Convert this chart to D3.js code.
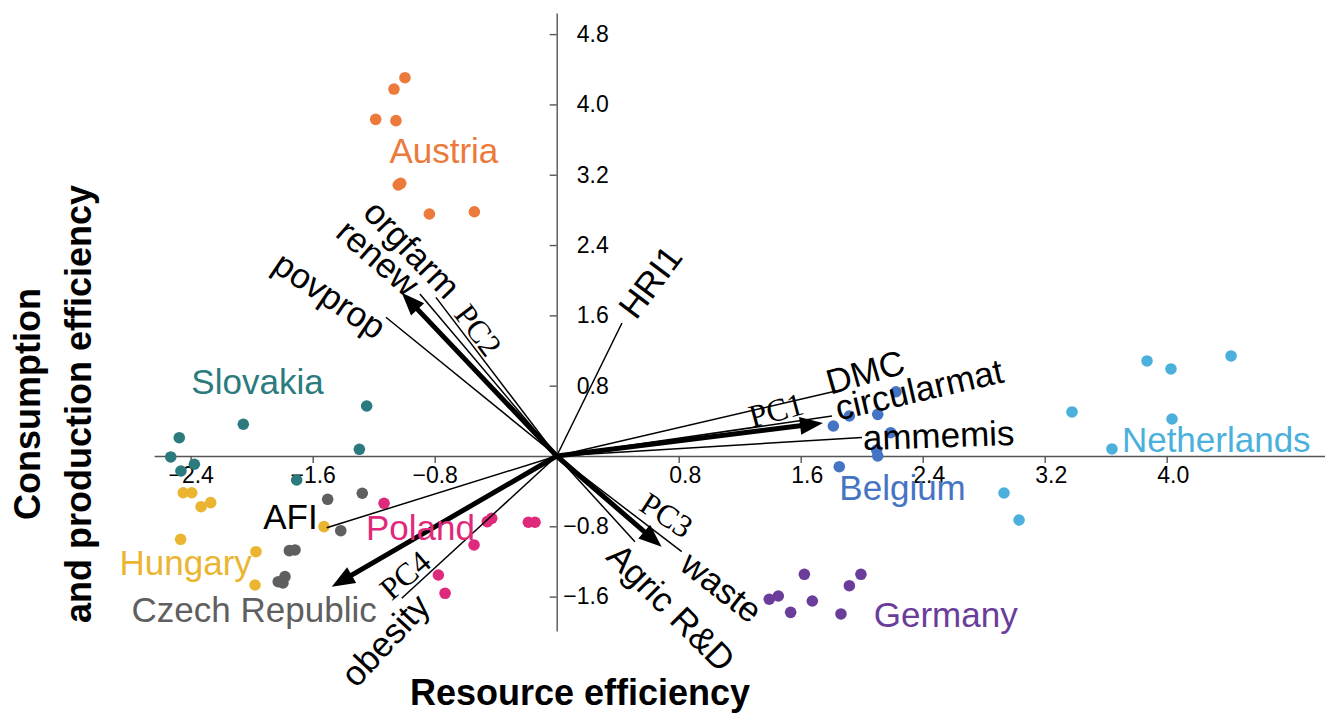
<!DOCTYPE html>
<html>
<head>
<meta charset="utf-8">
<script src="https://cdn.jsdelivr.net/npm/d3@7"></script>
<style>
    body { margin: 0; background: #ffffff; }
    svg { display: block; font-family: "Liberation Sans", Arial, sans-serif; }
</style>
</head>
<body>
<div id="graphContainer"></div>
<script>
"use strict";

// Country scores (x = Resource efficiency, y = Consumption and production efficiency)
const countryNames = ["Austria", "Slovakia", "Hungary", "Czech Republic", "Poland", "Belgium", "Germany", "Netherlands"];
const countryColors = ["#EC7A3A", "#2B7B7E", "#EBB531", "#5F5F5F", "#DF2A7C", "#4674C4", "#6A3D9A", "#4BB0DB"];

const scoresAustria = [[-0.995, 4.304], [-1.067, 4.175], [-1.187, 3.830], [-1.054, 3.815],
    [-1.039, 3.083], [-1.023, 3.102], [-0.835, 2.753], [-0.540, 2.779]];
const scoresSlovakia = [[-1.246, 0.569], [-2.055, 0.361], [-2.475, 0.208], [-1.294, 0.076],
    [-2.531, -0.011], [-2.376, -0.094], [-2.464, -0.171], [-1.705, -0.273]];
const scoresHungary = [[-2.449, -0.418], [-2.393, -0.418], [-2.332, -0.577], [-2.269, -0.531],
    [-2.466, -0.948], [-1.972, -1.089], [-1.978, -1.468], [-1.526, -0.804]];
const scoresCzech = [[-1.502, -0.493], [-1.275, -0.424], [-1.416, -0.850], [-1.753, -1.077],
    [-1.716, -1.069], [-1.782, -1.373], [-1.826, -1.430], [-1.795, -1.445]];
const scoresPoland = [[-1.132, -0.538], [-0.426, -0.709], [-0.455, -0.747], [-0.186, -0.754],
    [-0.142, -0.754], [-0.542, -1.012], [-0.776, -1.354], [-0.732, -1.562]];
const scoresBelgium = [[2.225, 0.731], [1.919, 0.455], [2.105, 0.474], [1.814, 0.341],
    [2.190, 0.265], [2.098, 0.068], [2.105, 0.000], [1.853, -0.122]];
const scoresGermany = [[1.394, -1.630], [1.453, -1.593], [1.534, -1.779], [1.624, -1.346],
    [1.676, -1.650], [1.864, -1.797], [1.919, -1.476], [1.995, -1.346]];
const scoresNetherlands = [[3.871, 1.081], [4.028, 0.990], [4.422, 1.138], [3.379, 0.501],
    [4.035, 0.421], [3.641, 0.080], [2.933, -0.421], [3.032, -0.728]];

// Variable loadings (thin lines)
const variableNames = ["HRI1", "DMC", "circularmat", "ammemis", "waste", "Agric R&D", "obesity", "AFI", "povprop", "renew", "orgfarm"];
const loadingX = [0.428, 1.832, 1.805, 2.002, 0.820, 0.513, -1.016, -1.508, -1.120, -0.897, -0.792];
const loadingY = [1.513, 0.739, 0.455, 0.210, -1.089, -0.975, -1.619, -0.816, 1.578, 1.843, 1.805];

// Principal component arrows
const componentNames = ["PC1", "PC2", "PC3", "PC4"];
const componentX = [1.746, -1.016, 0.688, -1.475];
const componentY = [0.375, 1.858, -1.032, -1.487];

// Axis ticks
const xTicks = [-2.4, -1.6, -0.8, 0.8, 1.6, 2.4, 3.2, 4.0];
const yTicks = [-1.6, -0.8, 0.8, 1.6, 2.4, 3.2, 4.0, 4.8];

// Label placement, in data units (where each label sits and how it is turned)
const countryLabelAt = [[-0.740, 3.330], [-1.962, 0.705], [-2.433, -1.354], [-1.984, -1.885],
    [-0.893, -0.956], [2.268, -0.500], [2.551, -1.942], [4.325, 0.048]];
const variableLabelAt = [[0.612, 1.983], [2.022, 0.959], [2.376, 0.762], [2.504, 0.239], [1.082, -1.487],
    [0.752, -1.721], [-1.126, -2.093], [-1.746, -0.688], [-1.487, 1.832], [-1.170, 2.260], [-0.947, 2.355]];
const variableLabelAngle = [-53, -16, -13, -2, 38, 45, -47, 0, 34, 41, 46];
const componentLabelAt = [[1.438, 0.523], [-0.514, 1.433], [0.721, -0.671], [-0.995, -1.354]];
const componentLabelAngle = [-15, 53, 33, -41];

const graphInfo = {
    width: 1325,
    height: 713,
    xAxisLabel: "Resource efficiency",
    yAxisLabel: ["Consumption", "and production efficiency"],
    labelSize: 35,
    tickSize: 23
};

const svg = d3.select("#graphContainer").append("svg")
    .attr("width", graphInfo.width)
    .attr("height", graphInfo.height);

const xScale = d3.scaleLinear().domain([-2.64, 5.04]).range([154.1, 1325.3]);
const yScale = d3.scaleLinear().domain([-1.99, 5.04]).range([630.9, 13.0]);

const x0 = xScale(0), y0 = yScale(0);
const fmt = d3.format(".1f");

// x axis through the origin
const xAxis = svg.append("g")
    .attr("transform", `translate(0,${y0})`)
    .call(d3.axisBottom(xScale).tickValues(xTicks).tickFormat(fmt).tickSize(7).tickPadding(4).tickSizeOuter(0));
xAxis.selectAll(".tick text")
    .attr("font-size", graphInfo.tickSize)
    .attr("font-family", "Liberation Sans, Arial, sans-serif")
    .attr("fill", "#000")
    .attr("dx", d => d > 0 ? 6 : 0);

// y axis through the origin, ticks to the left, labels to the right
const yAxis = svg.append("g")
    .attr("transform", `translate(${x0},0)`)
    .call(d3.axisRight(yScale).tickValues(yTicks).tickFormat(fmt).tickSizeInner(-7).tickSizeOuter(0).tickPadding(52));
yAxis.selectAll(".tick text")
    .attr("font-size", graphInfo.tickSize)
    .attr("font-family", "Liberation Sans, Arial, sans-serif")
    .attr("text-anchor", "end")
    .attr("fill", "#000");

svg.selectAll(".domain, .tick line")
    .attr("stroke", "#555")
    .attr("stroke-width", 1.4);

// Country points
const countryScores = [scoresAustria, scoresSlovakia, scoresHungary, scoresCzech,
    scoresPoland, scoresBelgium, scoresGermany, scoresNetherlands];

const points = [];
countryScores.forEach((list, i) => list.forEach(p => points.push({ x: p[0], y: p[1], color: countryColors[i] })));

svg.append("g")
    .selectAll("circle")
    .data(points)
    .join("circle")
    .attr("cx", d => xScale(d.x))
    .attr("cy", d => yScale(d.y))
    .attr("r", 5.8)
    .attr("fill", d => d.color);

// Variable loading lines
const loadings = variableNames.map((name, i) => ({
    name: name, x: loadingX[i], y: loadingY[i],
    lx: variableLabelAt[i][0], ly: variableLabelAt[i][1], angle: variableLabelAngle[i]
}));

svg.append("g")
    .selectAll("line")
    .data(loadings)
    .join("line")
    .attr("x1", x0)
    .attr("y1", y0)
    .attr("x2", d => xScale(d.x))
    .attr("y2", d => yScale(d.y))
    .attr("stroke", "#000")
    .attr("stroke-width", 1.5);

// Thick arrows for the principal components
const components = componentNames.map((name, i) => ({
    name: name, x: componentX[i], y: componentY[i],
    lx: componentLabelAt[i][0], ly: componentLabelAt[i][1], angle: componentLabelAngle[i]
}));

function ArrowPath(d) {
    const tx = xScale(d.x), ty = yScale(d.y);
    const dx = tx - x0, dy = ty - y0, len = Math.hypot(dx, dy);
    const ux = dx / len, uy = dy / len, nx = -uy, ny = ux;
    const shaft = 2.5, head = 9, headLen = 23;
    const bx = tx - ux * headLen, by = ty - uy * headLen;
    const pts = [
        [x0 + nx * shaft, y0 + ny * shaft],
        [bx + nx * shaft, by + ny * shaft],
        [bx + nx * head, by + ny * head],
        [tx, ty],
        [bx - nx * head, by - ny * head],
        [bx - nx * shaft, by - ny * shaft],
        [x0 - nx * shaft, y0 - ny * shaft]
    ];
    return "M" + pts.map(p => p.join(",")).join("L") + "Z";
}

svg.append("g")
    .selectAll("path")
    .data(components)
    .join("path")
    .attr("d", ArrowPath)
    .attr("fill", "#000");

// Labels for the principal components (serif)
svg.append("g")
    .selectAll("text")
    .data(components)
    .join("text")
    .attr("transform", d => `translate(${xScale(d.lx)},${yScale(d.ly)}) rotate(${d.angle})`)
    .attr("text-anchor", "middle")
    .attr("dominant-baseline", "central")
    .attr("font-family", "Liberation Serif, Times New Roman, serif")
    .attr("font-size", 32)
    .attr("fill", "#000")
    .text(d => d.name);

// Labels for the variables
svg.append("g")
    .selectAll("text")
    .data(loadings)
    .join("text")
    .attr("transform", d => `translate(${xScale(d.lx)},${yScale(d.ly)}) rotate(${d.angle})`)
    .attr("text-anchor", "middle")
    .attr("dominant-baseline", "central")
    .attr("font-size", graphInfo.labelSize)
    .attr("fill", "#000")
    .text(d => d.name);

// Country names
svg.append("g")
    .selectAll("text")
    .data(countryNames)
    .join("text")
    .attr("x", (d, i) => xScale(countryLabelAt[i][0]))
    .attr("y", (d, i) => yScale(countryLabelAt[i][1]))
    .attr("text-anchor", "middle")
    .attr("font-size", graphInfo.labelSize)
    .attr("fill", (d, i) => countryColors[i])
    .text(d => d);

// Axis titles
svg.append("text")
    .attr("x", 580)
    .attr("y", 705)
    .attr("text-anchor", "middle")
    .attr("font-size", 36)
    .attr("font-weight", "bold")
    .text(graphInfo.xAxisLabel);

svg.append("g")
    .attr("transform", "translate(0,404) rotate(-90)")
    .selectAll("text")
    .data(graphInfo.yAxisLabel)
    .join("text")
    .attr("x", 0)
    .attr("y", (d, i) => 40 + i * 51)
    .attr("text-anchor", "middle")
    .attr("font-size", 36)
    .attr("font-weight", "bold")
    .text(d => d);
</script>
</body>
</html>
